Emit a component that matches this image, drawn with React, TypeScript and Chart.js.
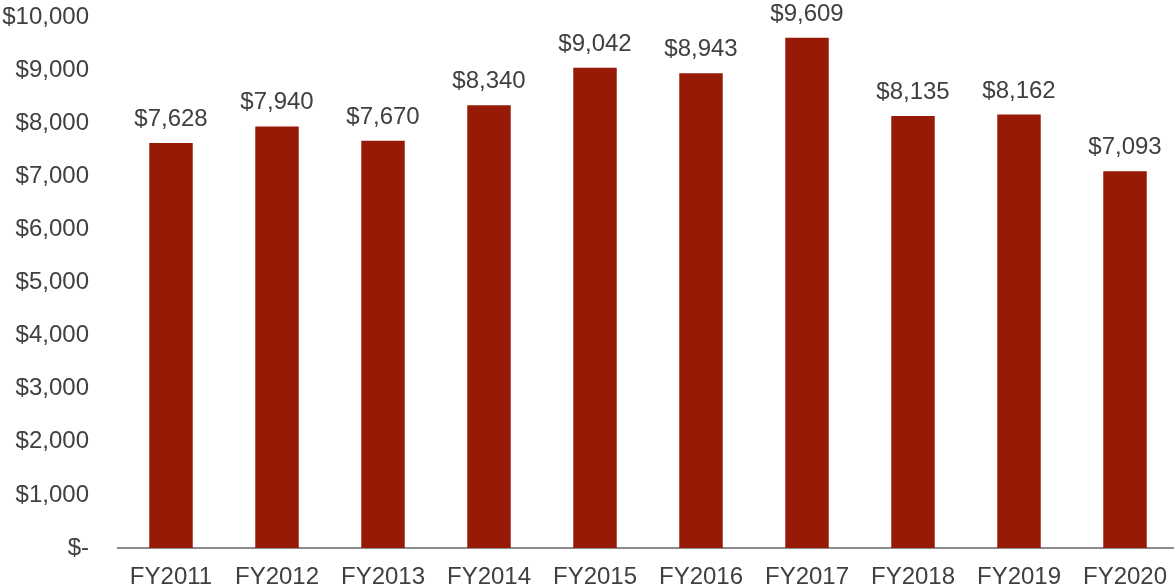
import React, { useEffect, useRef } from "react";
import { Chart, registerables } from "chart.js";

Chart.register(...registerables);

const categories = ["FY2011", "FY2012", "FY2013", "FY2014", "FY2015", "FY2016", "FY2017", "FY2018", "FY2019", "FY2020"];
const values = [7628, 7940, 7670, 8340, 9042, 8943, 9609, 8135, 8162, 7093];
const yMax = 10000;
const yStep = 1000;

const FONT = "'Liberation Sans', Arial, sans-serif";
const TEXT = "#404040";

const fmt = (v: number) => (v === 0 ? "$-" : "$" + v.toLocaleString("en-US"));

const labelPlugin = {
  id: "valueLabels",
  afterDatasetsDraw(chart: any) {
    const ctx = chart.ctx;
    const meta = chart.getDatasetMeta(0);
    ctx.save();
    ctx.font = `24px ${FONT}`;
    ctx.fillStyle = TEXT;
    ctx.textAlign = "center";
    ctx.textBaseline = "alphabetic";
    meta.data.forEach((bar: any, i: number) => {
      ctx.fillText(fmt(values[i]), bar.x, bar.y - 17);
    });
    ctx.restore();
  },
};

export default function App() {
  const ref = useRef<HTMLCanvasElement>(null);
  useEffect(() => {
    const chart = new Chart(ref.current!, {
      type: "bar",
      data: {
        labels: categories,
        datasets: [
          {
            data: values,
            backgroundColor: "#961A06",
            barPercentage: 0.41,
            categoryPercentage: 1,
          },
        ],
      },
      options: {
        animation: false,
        responsive: false,
        maintainAspectRatio: false,
        layout: { padding: { top: 17, right: 0, left: 0, bottom: 0 } },
        plugins: { legend: { display: false }, tooltip: { enabled: false } },
        scales: {
          x: {
            grid: { display: false, drawTicks: false },
            border: { display: true, color: "#8C8C8C", width: 2 },
            ticks: { color: TEXT, font: { family: FONT, size: 24 }, padding: 15, maxRotation: 0, autoSkip: false },
            afterFit: (s: any) => {
              s.height = 40;
              s.paddingLeft = 0;
              s.paddingRight = 0;
            },
          },
          y: {
            min: 0,
            max: yMax,
            grid: { display: false, drawTicks: false },
            border: { display: false },
            ticks: {
              stepSize: yStep,
              color: TEXT,
              font: { family: FONT, size: 24 },
              padding: 29,
              callback: (v: any) => fmt(Number(v)),
            },
            afterFit: (s: any) => {
              s.width = 118;
              s.paddingTop = 0;
              s.paddingBottom = 0;
            },
          },
        },
      },
      plugins: [labelPlugin],
    });
    return () => chart.destroy();
  }, []);
  return (
    <div style={{ position: "fixed", left: 0, top: 0, width: 1174, height: 588, overflow: "hidden", background: "#fff" }}>
      <canvas ref={ref} width={1178} height={588} style={{ width: 1178, height: 588 }} />
    </div>
  );
}
